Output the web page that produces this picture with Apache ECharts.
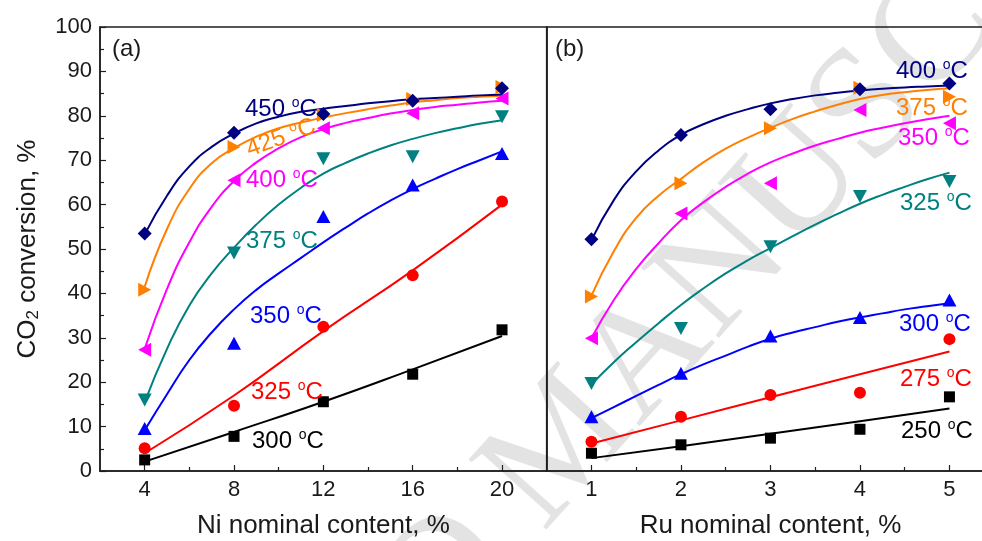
<!DOCTYPE html>
<html>
<head>
<meta charset="utf-8">
<script src="https://cdn.jsdelivr.net/npm/echarts@6/dist/echarts.min.js"></script>
<style>
  html, body { margin: 0; padding: 0; background: #ffffff; }
  #chart { width: 982px; height: 541px; }
</style>
</head>
<body>
<div id="chart"></div>
<script>
// ---- Panel (a): Ni nominal content ----
const niContent = [4, 8, 12, 16, 20];
const niMajorTicks = [4, 8, 12, 16, 20];
const niMinorTicks = [6, 10, 14, 18];
const ni300 = [2.5, 7.8, 15.6, 21.8, 31.8];
const ni325 = [5.1, 14.7, 32.5, 44.1, 60.7];
const ni350 = [9.6, 28.8, 57.3, 64.4, 71.5];
const ni375 = [16.0, 49.1, 70.3, 70.8, 79.8];
const ni400 = [27.3, 65.5, 77.2, 80.6, 83.9];
const ni425 = [40.8, 73.0, 80.2, 83.8, 86.5];
const ni450 = [53.5, 76.2, 80.4, 83.4, 86.2];
// fitted trend curves
const ni300Fit = [2.1, 8.8, 15.6, 22.9, 30.4];
const ni325Fit = [4.0, 17.0, 31.5, 45.2, 60.0];
const niFitX = [4, 5, 6, 7, 8, 9, 10, 11, 12, 13, 14, 15, 16, 17, 18, 19, 20];
const ni350Fit = [9.2, 17.3, 25.0, 31.2, 36.4, 40.8, 44.5, 48.0, 51.5, 54.8, 58.0, 60.9, 63.5, 65.8, 68.0, 70.0, 72.0];
const ni375Fit = [15.5, 27.5, 37.3, 44.5, 50.3, 55.5, 60.0, 63.8, 67.0, 69.4, 71.5, 73.3, 74.8, 76.1, 77.2, 78.2, 79.0];
const ni400Fit = [27.5, 41.0, 51.5, 59.5, 65.3, 69.5, 72.7, 75.2, 77.0, 78.4, 79.5, 80.5, 81.3, 82.0, 82.5, 83.0, 83.4];
const ni425Fit = [41.5, 54.5, 63.5, 69.3, 72.7, 75.3, 77.2, 78.5, 79.6, 80.6, 81.5, 82.3, 83.0, 83.5, 84.0, 84.3, 84.5];
const ni450Fit = [53.3, 62.0, 68.6, 73.0, 76.0, 78.3, 79.8, 80.9, 81.6, 82.2, 82.8, 83.3, 83.7, 84.0, 84.3, 84.6, 84.8];

// ---- Panel (b): Ru nominal content ----
const ruContent = [1, 2, 3, 4, 5];
const ruMajorTicks = [1, 2, 3, 4, 5];
const ruMinorTicks = [1.5, 2.5, 3.5, 4.5];
const ru250 = [4.0, 5.9, 7.4, 9.4, 16.7];
const ru275 = [6.6, 12.2, 17.1, 17.6, 29.7];
const ru300 = [12.2, 22.0, 30.4, 34.6, 38.5];
const ru325 = [19.7, 32.1, 50.5, 61.8, 65.2];
const ru350 = [29.9, 58.0, 64.8, 81.3, 78.3];
const ru375 = [39.3, 64.8, 77.2, 86.3, 84.3];
const ru400 = [52.2, 75.7, 81.5, 86.0, 87.3];
const ru250Fit = [2.9, 5.6, 8.4, 11.2, 14.1];
const ru275Fit = [6.2, 11.4, 16.6, 21.8, 26.9];
const ruFitX = [1, 1.25, 1.5, 1.75, 2, 2.25, 2.5, 2.75, 3, 3.25, 3.5, 3.75, 4, 4.25, 4.5, 4.75, 5];
const ru300Fit = [11.9, 14.4, 16.9, 19.4, 21.8, 24.0, 26.0, 28.0, 29.8, 31.2, 32.4, 33.6, 34.6, 35.5, 36.4, 37.1, 37.8];
const ru325Fit = [19.5, 24.5, 29.0, 33.3, 37.4, 41.1, 44.5, 47.5, 50.2, 52.9, 55.5, 57.9, 60.2, 62.2, 64.0, 65.7, 67.2];
const ru350Fit = [29.9, 38.5, 45.5, 51.3, 56.5, 60.5, 64.0, 67.0, 69.5, 71.5, 73.3, 74.8, 76.2, 77.3, 78.3, 79.2, 80.0];
const ru375Fit = [39.5, 49.5, 57.0, 62.0, 65.8, 69.5, 72.6, 75.1, 77.3, 79.3, 81.0, 82.5, 83.8, 84.7, 85.3, 85.8, 86.2];
const ru400Fit = [52.0, 61.0, 67.5, 72.2, 75.7, 78.1, 80.0, 81.5, 82.8, 83.8, 84.6, 85.2, 85.7, 86.1, 86.4, 86.6, 86.8];

const yTicks = { min: 0, max: 100, step: 10 };

// ---- styling ----
const FONT = "'Liberation Sans', Arial, sans-serif";
const AXIS_COLOR = '#1e1e1e';
const C = {
  black: '#000000', red: '#ff0000', blue: '#0000ff', teal: '#008080',
  magenta: '#ff00ff', orange: '#ff8000', navy: '#000080'
};
const SYM = {
  square: { symbol: 'rect', size: 11 },
  circle: { symbol: 'circle', size: 12 },
  up: { symbol: 'path://M6,0L12,11L0,11Z', size: [14, 13] },
  down: { symbol: 'path://M0,0L12,0L6,11Z', size: [14, 13] },
  left: { symbol: 'path://M11,0L11,12L0,6Z', size: [13, 14] },
  right: { symbol: 'path://M0,0L0,12L11,6Z', size: [13, 14] },
  diamond: { symbol: 'diamond', size: 14 }
};

const pairs = (xs, ys) => xs.map((x, i) => [x, ys[i]]);

function fitSeries(xIdx, xs, ys, color) {
  return {
    type: 'line', xAxisIndex: xIdx, yAxisIndex: xIdx,
    data: pairs(xs, ys), smooth: 0.5, showSymbol: false, symbol: 'none',
    lineStyle: { color: color, width: 2 }, silent: true, z: 3, clip: true
  };
}
function pointSeries(xIdx, xs, ys, color, sym) {
  return {
    type: 'scatter', xAxisIndex: xIdx, yAxisIndex: xIdx,
    data: pairs(xs, ys), symbol: sym.symbol, symbolSize: sym.size,
    itemStyle: { color: color, opacity: 1 }, silent: true, z: 4
  };
}

const series = [
  fitSeries(0, niContent, ni300Fit, C.black), pointSeries(0, niContent, ni300, C.black, SYM.square),
  fitSeries(0, niContent, ni325Fit, C.red), pointSeries(0, niContent, ni325, C.red, SYM.circle),
  fitSeries(0, niFitX, ni350Fit, C.blue), pointSeries(0, niContent, ni350, C.blue, SYM.up),
  fitSeries(0, niFitX, ni375Fit, C.teal), pointSeries(0, niContent, ni375, C.teal, SYM.down),
  fitSeries(0, niFitX, ni400Fit, C.magenta), pointSeries(0, niContent, ni400, C.magenta, SYM.left),
  fitSeries(0, niFitX, ni425Fit, C.orange), pointSeries(0, niContent, ni425, C.orange, SYM.right),
  fitSeries(0, niFitX, ni450Fit, C.navy), pointSeries(0, niContent, ni450, C.navy, SYM.diamond),

  fitSeries(1, ruContent, ru250Fit, C.black), pointSeries(1, ruContent, ru250, C.black, SYM.square),
  fitSeries(1, ruContent, ru275Fit, C.red), pointSeries(1, ruContent, ru275, C.red, SYM.circle),
  fitSeries(1, ruFitX, ru300Fit, C.blue), pointSeries(1, ruContent, ru300, C.blue, SYM.up),
  fitSeries(1, ruFitX, ru325Fit, C.teal), pointSeries(1, ruContent, ru325, C.teal, SYM.down),
  fitSeries(1, ruFitX, ru350Fit, C.magenta), pointSeries(1, ruContent, ru350, C.magenta, SYM.left),
  fitSeries(1, ruFitX, ru375Fit, C.orange), pointSeries(1, ruContent, ru375, C.orange, SYM.right),
  fitSeries(1, ruFitX, ru400Fit, C.navy), pointSeries(1, ruContent, ru400, C.navy, SYM.diamond)
];

// ---- axes ----
function mainX(gridIndex, min, max, ticks, title) {
  return {
    type: 'value', gridIndex: gridIndex, position: 'bottom', min: min, max: max,
    name: title, nameLocation: 'middle', nameGap: 42,
    nameTextStyle: { fontFamily: FONT, fontSize: 26, color: '#1a1a1a' },
    axisLine: { show: true, onZero: false, lineStyle: { color: AXIS_COLOR, width: 1.5 } },
    axisTick: { show: true, inside: true, length: 6, customValues: ticks, lineStyle: { color: AXIS_COLOR, width: 1.2 } },
    axisLabel: { show: true, margin: 8, customValues: ticks, fontFamily: FONT, fontSize: 22, color: '#1a1a1a' },
    splitLine: { show: false }
  };
}
function minorX(gridIndex, min, max, ticks) {
  return {
    type: 'value', gridIndex: gridIndex, position: 'bottom', min: min, max: max,
    axisLine: { show: false },
    axisTick: { show: true, inside: true, length: 4, customValues: ticks, lineStyle: { color: AXIS_COLOR, width: 1.2 } },
    axisLabel: { show: false, customValues: ticks },
    splitLine: { show: false }
  };
}

const gridBase = {
  top: 27, height: 444, show: true, borderColor: AXIS_COLOR, borderWidth: 1.5,
  backgroundColor: 'transparent', containLabel: false, outerBoundsMode: 'none'
};

const option = {
  backgroundColor: '#ffffff',
  animation: false,
  grid: [
    Object.assign({ left: 100, width: 446.7 }, gridBase),
    Object.assign({ left: 546.7, width: 447.5 }, gridBase)
  ],
  xAxis: [
    mainX(0, 2, 22, niMajorTicks, 'Ni nominal content, %'),
    mainX(1, 0.5, 5.5, ruMajorTicks, 'Ru nominal content, %'),
    minorX(0, 2, 22, niMinorTicks),
    minorX(1, 0.5, 5.5, ruMinorTicks)
  ],
  yAxis: [
    {
      type: 'value', gridIndex: 0, min: yTicks.min, max: yTicks.max, interval: yTicks.step,
      name: '{n|CO}{b|2}{n| conversion, %}', nameLocation: 'middle', nameGap: 58,
      nameTextStyle: {
        rich: {
          n: { fontFamily: FONT, fontSize: 26, lineHeight: 28, color: '#1a1a1a' },
          b: { fontFamily: FONT, fontSize: 17, lineHeight: 17, padding: [11, 0, 0, 0], color: '#1a1a1a' }
        }
      },
      axisLine: { show: true, lineStyle: { color: AXIS_COLOR, width: 1.5 } },
      axisTick: { show: true, inside: true, length: 6, lineStyle: { color: AXIS_COLOR, width: 1.2 } },
      minorTick: { show: true, splitNumber: 2, length: 4, lineStyle: { color: AXIS_COLOR, width: 1.2 } },
      axisLabel: { margin: 8, fontFamily: FONT, fontSize: 22, color: '#1a1a1a' },
      splitLine: { show: false }, minorSplitLine: { show: false }
    },
    {
      type: 'value', gridIndex: 1, min: yTicks.min, max: yTicks.max, interval: yTicks.step,
      axisLine: { show: true, lineStyle: { color: AXIS_COLOR, width: 1.5 } },
      axisTick: { show: false }, axisLabel: { show: false }, splitLine: { show: false }
    }
  ],
  series: series
};

const chart = echarts.init(document.getElementById('chart'), null, { renderer: 'canvas' });
chart.setOption(option);

// ---- annotations ----
function tempLabel(temp, color, x, y, rot) {
  return {
    type: 'text', x: x, y: y, rotation: (rot || 0) * Math.PI / 180, z: 100, silent: true,
    style: {
      text: '{n|' + temp + ' }{s|o}{n|C}',
      align: rot ? 'center' : 'left', verticalAlign: 'middle',
      rich: {
        n: { fontFamily: FONT, fontSize: 24, lineHeight: 26, fill: color },
        s: { fontFamily: FONT, fontSize: 14, lineHeight: 14, padding: [0, 0, 12, 0], fill: color }
      }
    }
  };
}
function plainText(text, x, y) {
  return {
    type: 'text', x: x, y: y, z: 100, silent: true,
    style: { text: text, fontFamily: FONT, fontSize: 24, fill: '#1a1a1a', align: 'left', verticalAlign: 'middle' }
  };
}
// faint diagonal watermark
const WM = { fontFamily: "'Liberation Serif', 'DejaVu Serif', serif", fontSize: 160, fill: 'rgba(0,0,0,0.11)' };
const wmRot = 48 * Math.PI / 180;

chart.setOption({
  graphic: [
    { type: 'text', x: 512, y: 505, rotation: wmRot, z: -1, silent: true,
      style: Object.assign({ text: 'MANUSCRIPT', align: 'left', verticalAlign: 'middle' }, WM) },
    { type: 'text', x: 512, y: 505, rotation: wmRot, z: -1, silent: true,
      style: Object.assign({ text: 'ACCEPTED ', align: 'right', verticalAlign: 'middle' }, WM) },
    plainText('(a)', 112, 49),
    plainText('(b)', 555, 49),
    tempLabel('450', C.navy, 245, 109),
    tempLabel('425', C.orange, 281, 138, 20),
    tempLabel('400', C.magenta, 246, 180),
    tempLabel('375', C.teal, 246, 241),
    tempLabel('350', C.blue, 250, 316),
    tempLabel('325', C.red, 251, 392),
    tempLabel('300', C.black, 252, 441),
    tempLabel('400', C.navy, 896, 71),
    tempLabel('375', C.orange, 896, 108),
    tempLabel('350', C.magenta, 898, 138),
    tempLabel('325', C.teal, 900, 203),
    tempLabel('300', C.blue, 899, 324),
    tempLabel('275', C.red, 900, 379),
    tempLabel('250', C.black, 901, 431)
  ]
});
</script>
</body>
</html>
